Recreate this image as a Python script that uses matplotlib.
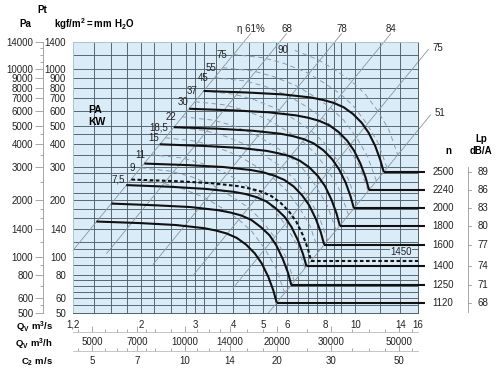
import matplotlib
matplotlib.use('Agg')
import matplotlib.pyplot as plt
from matplotlib.ticker import NullLocator, NullFormatter

plt.rcParams['font.family'] = ['Liberation Sans', 'DejaVu Sans']
plt.rcParams['mathtext.fontset'] = 'custom'
plt.rcParams['mathtext.rm'] = 'Liberation Sans'
plt.rcParams['mathtext.bf'] = 'Liberation Sans:bold'
plt.rcParams['lines.scale_dashes'] = False

# fan curves: Qv (m3/s) vs Pt (mm H2O), one per speed n (rpm)
q_1120 = [1.43, 2.00, 2.60, 3.20, 3.50, 3.80, 4.10, 4.40, 4.70, 4.95, 5.20, 5.40, 5.54]
p_1120 = [154, 151, 147.5, 142, 138, 133, 126, 116, 104, 92, 78, 66, 56.7]
q_1250 = [1.60, 2.23, 2.90, 3.57, 3.91, 4.24, 4.58, 4.91, 5.25, 5.52, 5.80, 6.03, 6.18]
p_1250 = [192, 188, 184, 177, 172, 166, 157, 144, 130, 115, 97, 82, 70.6]
q_1400 = [1.79, 2.50, 3.25, 4.00, 4.38, 4.75, 5.13, 5.50, 5.88, 6.19, 6.50, 6.75, 6.93]
p_1400 = [241, 236, 230, 222, 216, 208, 197, 181, 163, 144, 122, 103, 88.6]
q_1450 = [1.86, 2.59, 3.37, 4.14, 4.53, 4.92, 5.31, 5.70, 6.08, 6.41, 6.73, 6.99, 7.17]
p_1450 = [258, 253, 247, 238, 231, 223, 211, 194, 174, 154, 131, 111, 95.0]
q_1600 = [2.05, 2.86, 3.71, 4.57, 5.00, 5.43, 5.86, 6.29, 6.71, 7.07, 7.43, 7.71, 7.91]
p_1600 = [314, 308, 301, 290, 282, 271, 257, 237, 212, 188, 159, 135, 116]
q_1800 = [2.30, 3.21, 4.18, 5.14, 5.62, 6.11, 6.59, 7.07, 7.55, 7.96, 8.36, 8.68, 8.90]
p_1800 = [398, 390, 381, 367, 356, 344, 325, 300, 269, 238, 201, 170, 146]
q_2000 = [2.56, 3.57, 4.64, 5.71, 6.25, 6.79, 7.32, 7.86, 8.39, 8.84, 9.29, 9.64, 9.89]
p_2000 = [491, 482, 470, 453, 440, 424, 402, 370, 332, 293, 249, 210, 181]
q_2240 = [2.87, 4.00, 5.20, 6.40, 7.00, 7.60, 8.20, 8.80, 9.40, 9.90, 10.4, 10.8, 11.08]
p_2240 = [616, 604, 590, 568, 552, 532, 504, 464, 416, 368, 312, 264, 227]
q_2500 = [3.20, 4.46, 5.80, 7.14, 7.81, 8.48, 9.15, 9.82, 10.49, 11.05, 11.61, 12.05, 12.37]
p_2500 = [767, 752, 735, 708, 688, 663, 628, 578, 518, 458, 389, 329, 283]

speeds = [2500, 2240, 2000, 1800, 1600, 1400, 1250, 1120]
noise_db = [89, 86, 83, 80, 77, 74, 71, 68]

# absorbed power lines (kW)
q_7kw5 = [1.86, 2.33, 2.72, 3.24, 3.69, 4.14, 4.60, 5.05, 5.50, 5.89]
p_7kw5 = [258, 248, 231, 206, 181, 159, 136, 111, 87.2, 63.7]
q_9kw = [2.00, 2.50, 2.92, 3.48, 3.96, 4.45, 4.94, 5.43, 5.91, 6.33]
p_9kw = [298, 286, 267, 238, 209, 184, 157, 128, 101, 73.5]
q_11kw = [2.16, 2.71, 3.17, 3.77, 4.30, 4.83, 5.35, 5.88, 6.41, 6.86]
p_11kw = [350, 337, 314, 280, 246, 216, 184, 150, 118, 86.4]
q_15kw = [2.40, 3.01, 3.51, 4.18, 4.77, 5.35, 5.94, 6.53, 7.11, 7.61]
p_15kw = [431, 414, 386, 344, 302, 266, 227, 185, 146, 106]
q_18kw5 = [2.56, 3.22, 3.75, 4.47, 5.09, 5.72, 6.34, 6.97, 7.59, 8.13]
p_18kw5 = [491, 472, 440, 392, 344, 303, 258, 211, 166, 121]
q_22kw = [2.73, 3.43, 4.00, 4.76, 5.42, 6.09, 6.76, 7.42, 8.09, 8.66]
p_22kw = [558, 536, 500, 445, 391, 344, 293, 239, 188, 138]
q_30kw = [3.00, 3.76, 4.39, 5.22, 5.95, 6.69, 7.42, 8.15, 8.88, 9.51]
p_30kw = [672, 646, 602, 537, 471, 415, 354, 288, 227, 166]
q_37kw = [3.20, 4.02, 4.69, 5.58, 6.36, 7.14, 7.92, 8.71, 9.49, 10.16]
p_37kw = [767, 737, 688, 613, 538, 473, 404, 329, 259, 189]
q_45kw = [3.47, 4.36, 5.09, 6.06, 6.90, 7.75, 8.60, 9.45, 10.29, 11.02]
p_45kw = [903, 868, 810, 722, 634, 557, 475, 387, 305, 223]
q_55kw = [3.69, 4.64, 5.41, 6.44, 7.34, 8.24, 9.14, 10.04, 10.94, 11.72]
p_55kw = [1021, 981, 915, 816, 716, 630, 537, 438, 345, 252]
q_75kw = [4.00, 5.02, 5.86, 6.98, 7.95, 8.93, 9.91, 10.88, 11.86, 12.70]
p_75kw = [1200, 1153, 1075, 958, 841, 740, 631, 514, 405, 296]
q_90kw = [6.35, 7.56, 8.62, 9.68, 10.74, 11.80, 12.86, 13.76]
p_90kw = [1263, 1126, 988, 869, 741, 604, 476, 348]
kw_labels = ['7,5', '9', '11', '15', '18,5', '22', '30', '37', '45', '55', '75', '90']

# efficiency lines (P ~ Q^2), end points
eta_labels = ['η 61%', '68', '78', '84', '75', '51']
eta_q_top = [4.55, 5.96, 9.01, 13.04, 17.3, 17.6]
eta_p_top = [1550, 1550, 1550, 1550, 1279, 573]
eta_q_low = [1.2, 1.545, 2.19, 2.95, 3.99, 5.20]
eta_p_low = [108, 104, 91, 79, 68, 50]

# axes ticks and grid
q_ticks = [1.2, 2, 3, 4, 5, 6, 8, 10, 14, 16]
q_tick_labels = ['1,2', '2', '3', '4', '5', '6', '8', '10', '14', '16']
p_ticks = [50, 60, 80, 100, 140, 200, 300, 400, 500, 600, 700, 800, 900, 1000, 1400]
pa_ticks = [500, 600, 800, 1000, 1400, 2000, 3000, 4000, 5000, 6000, 7000, 8000, 9000, 10000, 14000]
pa_minor = [550, 700, 900, 1200, 1600, 1800, 2500, 3500, 4500, 11000, 12000, 13000]
qh_ticks = [5000, 7000, 10000, 14000, 20000, 30000, 50000]
c2_ticks = [5, 7, 10, 14, 20, 30, 50]
h_minor = [4500, 5500, 6000, 6500, 7500, 8000, 9000, 11000, 12000, 13000, 16000, 18000,
           25000, 35000, 40000, 45000, 55000]
c_minor = [4.5, 5.5, 6, 6.5, 7.5, 8, 9, 11, 12, 13, 16, 18, 25, 35, 40, 45, 55]
grid_q = [1.4, 1.6, 1.8, 2, 2.2, 2.5, 2.8, 3, 3.2, 3.5, 4, 4.5, 5, 5.5, 6, 6.5, 7, 7.5,
          8, 8.5, 9, 10, 12, 14]
grid_p = [55, 60, 65, 70, 75, 80, 90, 100, 110, 120, 140, 160, 180, 200, 220, 250, 280,
          300, 350, 400, 450, 500, 600, 700, 800, 900, 1000, 1200]

curves = [(q_2500, p_2500), (q_2240, p_2240), (q_2000, p_2000), (q_1800, p_1800),
          (q_1600, p_1600), (q_1400, p_1400), (q_1250, p_1250), (q_1120, p_1120)]
power = [(q_7kw5, p_7kw5), (q_9kw, p_9kw), (q_11kw, p_11kw), (q_15kw, p_15kw),
         (q_18kw5, p_18kw5), (q_22kw, p_22kw), (q_30kw, p_30kw), (q_37kw, p_37kw),
         (q_45kw, p_45kw), (q_55kw, p_55kw), (q_75kw, p_75kw), (q_90kw, p_90kw)]

fig = plt.figure(figsize=(5, 3.71), dpi=100)
ax = fig.add_axes([0.146, 0.1563, 0.69, 0.7305])
ax.set_facecolor('#d9ecf8')
ax.set_xscale('log')
ax.set_yscale('log')
ax.set_xlim(1.2, 16)
ax.set_ylim(50, 1400)

grid_col = '#4f5d67'
for q in grid_q:
    ax.axvline(q, color=grid_col, lw=0.65, zorder=1)
for p in grid_p:
    ax.axhline(p, color=grid_col, lw=0.65, zorder=1)

for sp in ['top', 'left']:
    ax.spines[sp].set_color('#a9c3d3')
for sp in ['bottom', 'right']:
    ax.spines[sp].set_color(grid_col)
for sp in ax.spines.values():
    sp.set_linewidth(0.7)

ax.set_xticks(q_ticks, labels=q_tick_labels)
ax.set_yticks(p_ticks, labels=[str(v) for v in p_ticks])
ax.xaxis.set_minor_locator(NullLocator())
ax.yaxis.set_minor_locator(NullLocator())
ax.tick_params(length=0, labelsize=7, colors='#222')
ax.tick_params(axis='x', pad=5)
ax.tick_params(axis='y', pad=5)

# efficiency lines
diag_col = '#8a969e'
for lab, q0, p0, q1, p1 in zip(eta_labels, eta_q_top, eta_p_top, eta_q_low, eta_p_low):
    ax.plot([q0, q1], [p0, p1], color=diag_col, lw=0.6, clip_on=False, zorder=2)
    if lab in ('75', '51'):
        ax.annotate(lab, (q0, p0), xytext=(3, 1), textcoords='offset points',
                    ha='left', va='center', fontsize=7, color='#222', annotation_clip=False)
    else:
        ax.annotate(lab, (q0, p0), xytext=(0, -0.5), textcoords='offset points',
                    ha='center', va='bottom', fontsize=7, color='#222', annotation_clip=False)

# power lines
for (q, p), lab in zip(power, kw_labels):
    ax.plot(q, p, color='#8d9ba6', lw=0.7, dashes=(3.5, 2.5), zorder=3)
    ax.annotate(lab, (q[0], p[0]), xytext=(-4.5, 0), textcoords='offset points',
                ha='right', va='center', fontsize=7, color='#222')

# fan curves with their flat tails and speed / noise labels
tf = ax.get_yaxis_transform()
for (q, p), n, db in zip(curves, speeds, noise_db):
    ax.plot(q, p, color='#111', lw=1.5, zorder=5, solid_capstyle='butt')
    ax.plot([q[-1], 16.9], [p[-1], p[-1]], color='#111', lw=1.5, zorder=5,
            clip_on=False, solid_capstyle='butt')
    ax.text(1.041, p[-1], str(n), transform=tf, ha='left', va='center', fontsize=7, color='#222')
    ax.text(1.188, p[-1], str(db), transform=tf, ha='center', va='center', fontsize=7, color='#222')
    ax.plot([1.145, 1.155], [p[-1], p[-1]], transform=tf, color='#999', lw=0.6, clip_on=False)

ax.plot(q_1450, p_1450, color='#111', lw=1.5, dashes=(2.6, 1.8), zorder=5)
ax.plot([q_1450[-1], 16], [p_1450[-1], p_1450[-1]], color='#111', lw=1.5,
        dashes=(2.6, 1.8), zorder=5)
ax.annotate('1450', (14.1, p_1450[-1]), xytext=(0, 3), textcoords='offset points',
            ha='center', va='bottom', fontsize=7, color='#222',
            bbox=dict(boxstyle='square,pad=0.05', fc='#d9ecf8', ec='none'))

ax.plot([1.145, 1.145], [302, 50.8], transform=tf, color='#999', lw=0.6, clip_on=False)
ax.text(1.087, 0.598, 'n', transform=ax.transAxes, ha='center', va='center',
        fontsize=7, fontweight='bold')
ax.text(1.183, 0.642, 'Lp', transform=ax.transAxes, ha='center', va='center',
        fontsize=7, fontweight='bold')
ax.text(1.183, 0.598, 'dB/A', transform=ax.transAxes, ha='center', va='center',
        fontsize=7, fontweight='bold')

# Pa scale
pa = ax.secondary_yaxis(-0.087, functions=(lambda y: y * 10, lambda y: y / 10))
pa.set_yticks(pa_ticks, labels=[str(v) for v in pa_ticks])
pa.set_yticks(pa_minor, minor=True)
pa.yaxis.set_minor_formatter(NullFormatter())
pa.tick_params(which='major', length=5.5, width=0.6, color='#999', pad=1.5,
               labelsize=7, labelcolor='#222')
pa.tick_params(which='minor', length=2.5, width=0.6, color='#999')
pa.spines['left'].set_color('#999')
pa.spines['left'].set_linewidth(0.6)

# m3/h and C2 scales
qh = ax.secondary_xaxis(-0.070, functions=(lambda q: q * 3600, lambda h: h / 3600))
c2 = ax.secondary_xaxis(-0.140, functions=(lambda q: q * 3.6, lambda c: c / 3.6))
for sec, ticks, minor in [(qh, qh_ticks, h_minor), (c2, c2_ticks, c_minor)]:
    sec.set_xticks(ticks, labels=[str(v) for v in ticks])
    sec.set_xticks(minor, minor=True)
    sec.xaxis.set_minor_formatter(NullFormatter())
    sec.tick_params(which='both', direction='in', color='#999', width=0.6, pad=3.5,
                    labelsize=7, labelcolor='#222')
    sec.tick_params(which='major', length=4)
    sec.tick_params(which='minor', length=2.5)
    sec.spines['bottom'].set_color('#bbb')
    sec.spines['bottom'].set_linewidth(0.6)

# header and side texts
fig.text(0.084, 0.973, 'Pt', ha='center', va='center', fontsize=7, fontweight='bold')
fig.text(0.05, 0.935, 'Pa', ha='center', va='center', fontsize=7, fontweight='bold')
fig.text(0.108, 0.935, r'$\mathbf{kgf/m^2 = mm\ H_2O}$', ha='left', va='center', fontsize=7)
fig.text(0.176, 0.7035, 'PA', ha='left', va='center', fontsize=7.5, fontweight='bold')
fig.text(0.176, 0.671, 'KW', ha='left', va='center', fontsize=7.5, fontweight='bold')
fig.text(0.106, 0.117, r'$\mathbf{Q_V\ m^3/s}$', ha='right', va='center', fontsize=6.8)
fig.text(0.106, 0.073, r'$\mathbf{Q_V\ m^3/h}$', ha='right', va='center', fontsize=6.8)
fig.text(0.106, 0.024, r'$\mathbf{C_2\ m/s}$', ha='right', va='center', fontsize=6.8)

fig.savefig('out.png', dpi=100, facecolor='white')
